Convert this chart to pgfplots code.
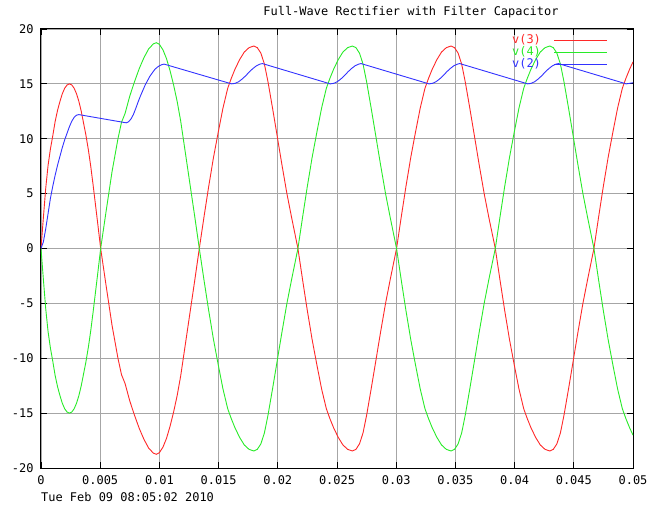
\documentclass[border=0pt]{standalone}
\usepackage{pgfplots}
\pgfplotsset{compat=1.18}
\usepackage{pgfplotstable}
\usepackage{fontspec}
\setmainfont{DejaVu Sans Mono}

\definecolor{gpred}{RGB}{255,40,40}
\definecolor{gpgreen}{RGB}{40,235,40}
\definecolor{gpblue}{RGB}{50,50,255}

% transformer secondary nodes v(3), v(4)
\pgfplotstableread{
t v3 v4
0 0 0
0.0001 1.4 -1.4
0.0002 2.8 -2.8
0.0004 5.5 -5.5
0.0006 7.6 -7.6
0.0008 9.1 -9.1
0.0010 10.3 -10.3
0.0012 11.6 -11.6
0.0014 12.6 -12.6
0.0016 13.4 -13.4
0.0018 14.1 -14.1
0.0020 14.6 -14.6
0.0022 14.9 -14.9
0.0024 15.0 -15.0
0.0026 14.9 -14.9
0.0028 14.6 -14.6
0.0030 14.1 -14.1
0.0032 13.4 -13.4
0.0034 12.5 -12.5
0.0036 11.4 -11.4
0.0038 10.3 -10.3
0.0040 9.0 -9.0
0.0042 7.5 -7.5
0.0044 5.8 -5.8
0.0046 4.0 -4.0
0.0048 2.2 -2.2
0.00504 0 0
0.0055 -3.4 3.4
0.0060 -7.0 7.0
0.0065 -10.0 10.0
0.0068 -11.5 11.5
0.0071 -12.3 12.3
0.0075 -13.9 13.9
0.0079 -15.2 15.2
0.0083 -16.4 16.4
0.0087 -17.4 17.4
0.0091 -18.2 18.2
0.0095 -18.65 18.65
0.00975 -18.75 18.75
0.0100 -18.6 18.6
0.0103 -18.1 18.1
0.0106 -17.3 17.3
0.0109 -16.2 16.2
0.0112 -14.9 14.9
0.0115 -13.4 13.4
0.0118 -11.6 11.6
0.0121 -9.4 9.4
0.0124 -7.2 7.2
0.0127 -5.0 5.0
0.0130 -2.8 2.8
0.01337 0 0
0.01377 2.9 -2.9
0.01417 5.7 -5.7
0.01457 8.3 -8.3
0.01497 10.6 -10.6
0.01537 12.8 -12.8
0.01577 14.6 -14.6
0.01607 15.5 -15.5
0.01637 16.3 -16.3
0.01677 17.2 -17.2
0.01717 17.9 -17.9
0.01757 18.3 -18.3
0.01797 18.45 -18.45
0.01827 18.3 -18.3
0.01857 17.8 -17.8
0.01887 16.8 -16.8
0.01917 15.2 -15.2
0.01957 12.7 -12.7
0.01997 10.1 -10.1
0.02037 7.5 -7.5
0.02077 5.0 -5.0
0.02117 2.8 -2.8
0.02170 0 0
0.02210 -2.9 2.9
0.02250 -5.7 5.7
0.02290 -8.3 8.3
0.02330 -10.6 10.6
0.02370 -12.8 12.8
0.02410 -14.6 14.6
0.02440 -15.5 15.5
0.02470 -16.3 16.3
0.02510 -17.2 17.2
0.02550 -17.9 17.9
0.02590 -18.3 18.3
0.02630 -18.45 18.45
0.02660 -18.3 18.3
0.02690 -17.8 17.8
0.02720 -16.8 16.8
0.02750 -15.2 15.2
0.02790 -12.7 12.7
0.02830 -10.1 10.1
0.02870 -7.5 7.5
0.02910 -5.0 5.0
0.02950 -2.8 2.8
0.03003 0 0
0.03043 2.9 -2.9
0.03083 5.7 -5.7
0.03123 8.3 -8.3
0.03163 10.6 -10.6
0.03203 12.8 -12.8
0.03243 14.6 -14.6
0.03273 15.5 -15.5
0.03303 16.3 -16.3
0.03343 17.2 -17.2
0.03383 17.9 -17.9
0.03423 18.3 -18.3
0.03463 18.45 -18.45
0.03493 18.3 -18.3
0.03523 17.8 -17.8
0.03553 16.8 -16.8
0.03583 15.2 -15.2
0.03623 12.7 -12.7
0.03663 10.1 -10.1
0.03703 7.5 -7.5
0.03743 5.0 -5.0
0.03783 2.8 -2.8
0.03837 0 0
0.03877 -2.9 2.9
0.03917 -5.7 5.7
0.03957 -8.3 8.3
0.03997 -10.6 10.6
0.04037 -12.8 12.8
0.04077 -14.6 14.6
0.04107 -15.5 15.5
0.04137 -16.3 16.3
0.04177 -17.2 17.2
0.04217 -17.9 17.9
0.04257 -18.3 18.3
0.04297 -18.45 18.45
0.04327 -18.3 18.3
0.04357 -17.8 17.8
0.04387 -16.8 16.8
0.04417 -15.2 15.2
0.04457 -12.7 12.7
0.04497 -10.1 10.1
0.04537 -7.5 7.5
0.04577 -5.0 5.0
0.04617 -2.8 2.8
0.04670 0 0
0.04710 2.9 -2.9
0.04750 5.7 -5.7
0.04790 8.3 -8.3
0.04830 10.6 -10.6
0.04870 12.8 -12.8
0.04910 14.6 -14.6
0.04940 15.5 -15.5
0.04970 16.3 -16.3
0.05000 17.0 -17.0
}\srcdata

% filtered output v(2)
\pgfplotstableread{
t v2
0 0
0.0002 0.6
0.0004 1.8
0.0006 3.2
0.0008 4.6
0.0010 5.7
0.0012 6.7
0.0014 7.6
0.0016 8.4
0.0018 9.2
0.0020 9.9
0.0022 10.5
0.0024 11.1
0.0026 11.6
0.0028 11.95
0.0030 12.15
0.0032 12.2
0.0072 11.45
0.0074 11.55
0.0076 11.8
0.0078 12.2
0.0080 12.75
0.0082 13.35
0.0084 13.9
0.0086 14.4
0.0088 14.9
0.0090 15.3
0.0092 15.7
0.0094 16.0
0.0096 16.3
0.0098 16.5
0.0100 16.65
0.0102 16.75
0.0104 16.8
0.0161 15.0
0.0164 15.05
0.0167 15.2
0.0170 15.45
0.0173 15.75
0.0176 16.1
0.0179 16.4
0.0182 16.65
0.0185 16.8
0.0187 16.85
0.02443 15.0
0.02473 15.05
0.02503 15.2
0.02533 15.45
0.02563 15.75
0.02593 16.1
0.02623 16.4
0.02653 16.65
0.02683 16.8
0.02703 16.85
0.03277 15.0
0.03307 15.05
0.03337 15.2
0.03367 15.45
0.03397 15.75
0.03427 16.1
0.03457 16.4
0.03487 16.65
0.03517 16.8
0.03537 16.85
0.0411 15.0
0.0414 15.05
0.0417 15.2
0.0420 15.45
0.0423 15.75
0.0426 16.1
0.0429 16.4
0.0432 16.65
0.0435 16.8
0.0437 16.85
0.04943 15.0
0.0500 15.1
}\outdata

\begin{document}
\begin{tikzpicture}
\begin{axis}[
 scale only axis,
 width=592bp, height=439bp,
 xmin=0, xmax=0.05, ymin=-20, ymax=20,
 xtick={0,0.005,0.01,0.015,0.02,0.025,0.03,0.035,0.04,0.045,0.05},
 xticklabels={0,0.005,0.01,0.015,0.02,0.025,0.03,0.035,0.04,0.045,0.05},
 scaled x ticks=false,
 ytick={-20,-15,-10,-5,0,5,10,15,20},
 yticklabels={-20,-15,-10,-5,0,5,10,15,20},
 grid=major,
 major grid style={black!35, line width=0.9bp},
 tick align=inside,
 major tick length=6bp,
 tick style={black, line width=0.9bp},
 axis line style={line width=1bp},
 tick label style={font=\fontsize{12}{13}\selectfont},
 xticklabel style={yshift=-4bp},
 yticklabel style={xshift=-4bp},
 legend style={draw=none, fill=none, at={(1,1)}, anchor=north east,
   xshift=-22bp, yshift=-3bp, font=\fontsize{12}{12}\selectfont,
   column sep=12bp, row sep=0bp,
   nodes={inner sep=1bp, text height=8bp, text depth=2bp}},
 legend plot pos=right,
 legend cell align=right,
 legend image code/.code={\draw[#1] (0bp,0bp) -- (53bp,0bp);},
 every axis plot/.append style={line width=0.9bp},
]
\addplot[gpred] table[x=t, y=v3] {\srcdata};
\addlegendentry{\textcolor{gpred}{v(3)}}
\addplot[gpgreen] table[x=t, y=v4] {\srcdata};
\addlegendentry{\textcolor{gpgreen}{v(4)}}
\addplot[gpblue] table[x=t, y=v2] {\outdata};
\addlegendentry{\textcolor{gpblue}{v(2)}}

\coordinate (ll) at (rel axis cs:0,0);
\coordinate (ur) at (rel axis cs:1,1);
\coordinate (tt) at (rel axis cs:0.625,1);
\end{axis}
\node[font=\fontsize{12}{13}\selectfont, yshift=17bp] at (tt) {Full-Wave Rectifier with Filter Capacitor};
\node[font=\fontsize{12}{13}\selectfont, anchor=west, inner sep=0pt, yshift=-29bp] at (ll) {Tue Feb 09 08:05:02 2010};
\pgfresetboundingbox
\path[use as bounding box] ([shift={(-41bp,-37bp)}]ll) rectangle ([shift={(19bp,29bp)}]ur);
\end{tikzpicture}
\end{document}
